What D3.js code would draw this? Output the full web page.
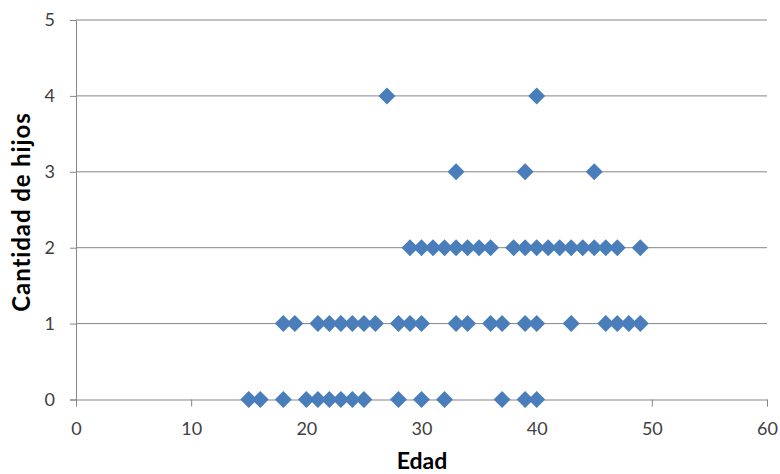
<!DOCTYPE html>
<html><head><meta charset="utf-8">
<script src="https://cdn.jsdelivr.net/npm/d3@7"></script>
<style>body{margin:0;background:#fff}svg{display:block}</style>
</head><body>
<svg id="c" width="780" height="474"></svg>
<script>
const edad0 = [15,16,18,20,21,22,23,24,25,28,30,32,37,39,40];
const edad1 = [18,19,21,22,23,24,25,26,28,29,30,33,34,36,37,39,40,43,46,47,48,49];
const edad2 = [29,30,31,32,33,34,35,36,38,39,40,41,42,43,44,45,46,47,49];
const edad3 = [33,39,45];
const edad4 = [27,40];
const xTicks = [0,10,20,30,40,50,60];
const yTicks = [0,1,2,3,4,5];
const xTitle = "Edad", yTitle = "Cantidad de hijos";

const groups = [edad0, edad1, edad2, edad3, edad4];
const points = [];
groups.forEach((arr, k) => arr.forEach(e => points.push({x: e, y: k})));

const svg = d3.select("#c");
const x = d3.scaleLinear().domain([0,60]).range([76,767]);
const y = d3.scaleLinear().domain([0,5]).range([399.5,20]);
const font = "Lato, 'Open Sans', sans-serif";
const grid = "#868686";

// gridlines
svg.append("g").selectAll("line").data(yTicks.filter(d=>d>0)).join("line")
  .attr("x1", x(0)).attr("x2", x(60)).attr("y1", d=>y(d)).attr("y2", d=>y(d))
  .attr("stroke", grid).attr("stroke-width", 1);

// y axis
const ya = svg.append("g").attr("transform", `translate(${x(0)},0)`)
  .call(d3.axisLeft(y).tickValues(yTicks).tickSize(6).tickPadding(15).tickFormat(d3.format("d")));
// x axis
const xa = svg.append("g").attr("transform", `translate(0,${y(0)})`)
  .call(d3.axisBottom(x).tickValues(xTicks).tickSize(7).tickPadding(16).tickFormat(d3.format("d")));
[ya, xa].forEach(a => {
  a.select(".domain").attr("stroke", grid);
  a.selectAll(".tick line").attr("stroke", grid);
  a.selectAll(".tick text").attr("fill", "#404040").attr("font-size", 18).attr("font-family", font);
});

// points
const r = 8.5;
svg.append("g").selectAll("path").data(points).join("path")
  .attr("d", `M0,${-r}L${r},0L0,${r}L${-r},0Z`)
  .attr("transform", d => `translate(${x(d.x)},${y(d.y)})`)
  .attr("fill", "#4a7ebb");

// titles
svg.append("text").attr("x", 422).attr("y", 469).attr("text-anchor", "middle")
  .attr("font-family", font).attr("font-weight", "bold").attr("font-size", 23).attr("fill", "#000").text(xTitle);
svg.append("text").attr("transform", "translate(30,212) rotate(-90)").attr("text-anchor", "middle")
  .attr("font-family", font).attr("font-weight", "bold").attr("font-size", 24)
  .attr("letter-spacing", 0.9).attr("fill", "#000").text(yTitle);
</script>
</body></html>
